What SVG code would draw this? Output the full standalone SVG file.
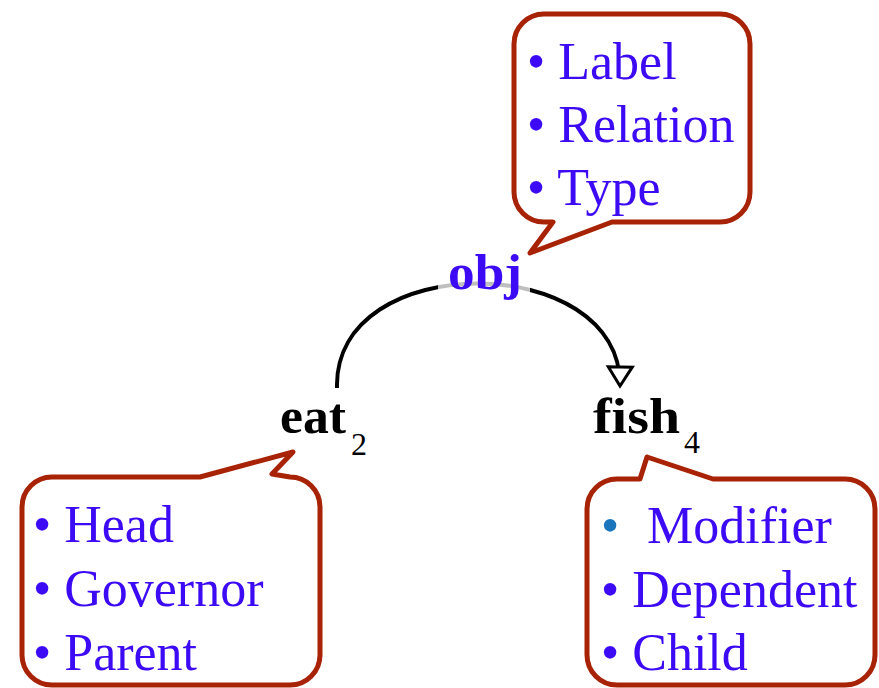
<svg xmlns="http://www.w3.org/2000/svg" width="879" height="688" viewBox="0 0 879 688">
<style>
.callout{fill:#ffffff;stroke:#A82306;stroke-width:5;stroke-linejoin:round}
.item{font-family:"Liberation Serif","Times New Roman",serif;font-size:52px;fill:#3C0AF5}
.word{font-family:"Liberation Serif","Times New Roman",serif;font-size:51px;font-weight:bold;fill:#000000}
.sub{font-family:"Liberation Serif","Times New Roman",serif;font-size:32px;font-weight:normal;fill:#000000}
.rel{font-family:"Liberation Serif","Times New Roman",serif;font-size:51px;font-weight:bold;fill:#3C0AF5}
.edge{fill:none;stroke:#000000;stroke-width:4}
</style>
<defs>
<marker id="arr" markerUnits="userSpaceOnUse" viewBox="-22 -15 25 30" markerWidth="25" markerHeight="30" refX="0" refY="0" orient="auto">
<path d="M -19,-12 L 0,0 L -19,12 Z" fill="#ffffff" stroke="#000000" stroke-width="3" stroke-linejoin="miter"/>
</marker>
</defs>
<rect width="879" height="688" fill="#ffffff"/>
<g id="connectors">
<path class="edge" d="M 337 388 C 333 248, 622 250, 620 386" marker-end="url(#arr)"/>
</g>
<g id="obj-callout">
<path class="callout" d="M 544,14 H 720 A 30 30 0 0 1 750 44 V 192 A 30 30 0 0 1 720 222 H 612 L 530 253 L 553 222 H 544 A 30 30 0 0 1 514 192 V 44 A 30 30 0 0 1 544 14 Z"/>
<text class="item" x="527" y="79">• Label</text>
<text class="item" x="527" y="142">• Relation</text>
<text class="item" x="527" y="205">• Type</text>
</g>
<g id="obj">
<rect x="438" y="268" width="92" height="30" fill="#ffffff" opacity="0.75"/>
<text class="rel" x="448" y="289" textLength="74" lengthAdjust="spacingAndGlyphs">obj</text>
</g>
<g id="eat">
<text class="word" x="280" y="433" textLength="66" lengthAdjust="spacingAndGlyphs">eat</text>
<text class="sub" x="351" y="455">2</text>
</g>
<g id="fish">
<text class="word" x="593" y="433" textLength="87" lengthAdjust="spacingAndGlyphs">fish</text>
<text class="sub" x="684" y="453">4</text>
</g>
<g id="head-callout">
<path class="callout" d="M 52,477 H 200 L 293 452 L 272 474 L 290 477 A 30 30 0 0 1 320 507 V 655 A 30 30 0 0 1 290 685 H 52 A 30 30 0 0 1 22 655 V 507 A 30 30 0 0 1 52 477 Z"/>
<text class="item" x="33" y="542">• Head</text>
<text class="item" x="33" y="606">• Governor</text>
<text class="item" x="33" y="670">• Parent</text>
</g>
<g id="modifier-callout">
<path class="callout" d="M 617,479 H 640 L 647 457 L 713 479 H 845 A 30 30 0 0 1 875 509 V 655 A 30 30 0 0 1 845 685 H 617 A 30 30 0 0 1 587 655 V 509 A 30 30 0 0 1 617 479 Z"/>
<text class="item" x="601" y="543"><tspan fill="#1B75BC">•</tspan><tspan x="647">Modifier</tspan></text>
<text class="item" x="601" y="607">• Dependent</text>
<text class="item" x="601" y="670">• Child</text>
</g>
</svg>
